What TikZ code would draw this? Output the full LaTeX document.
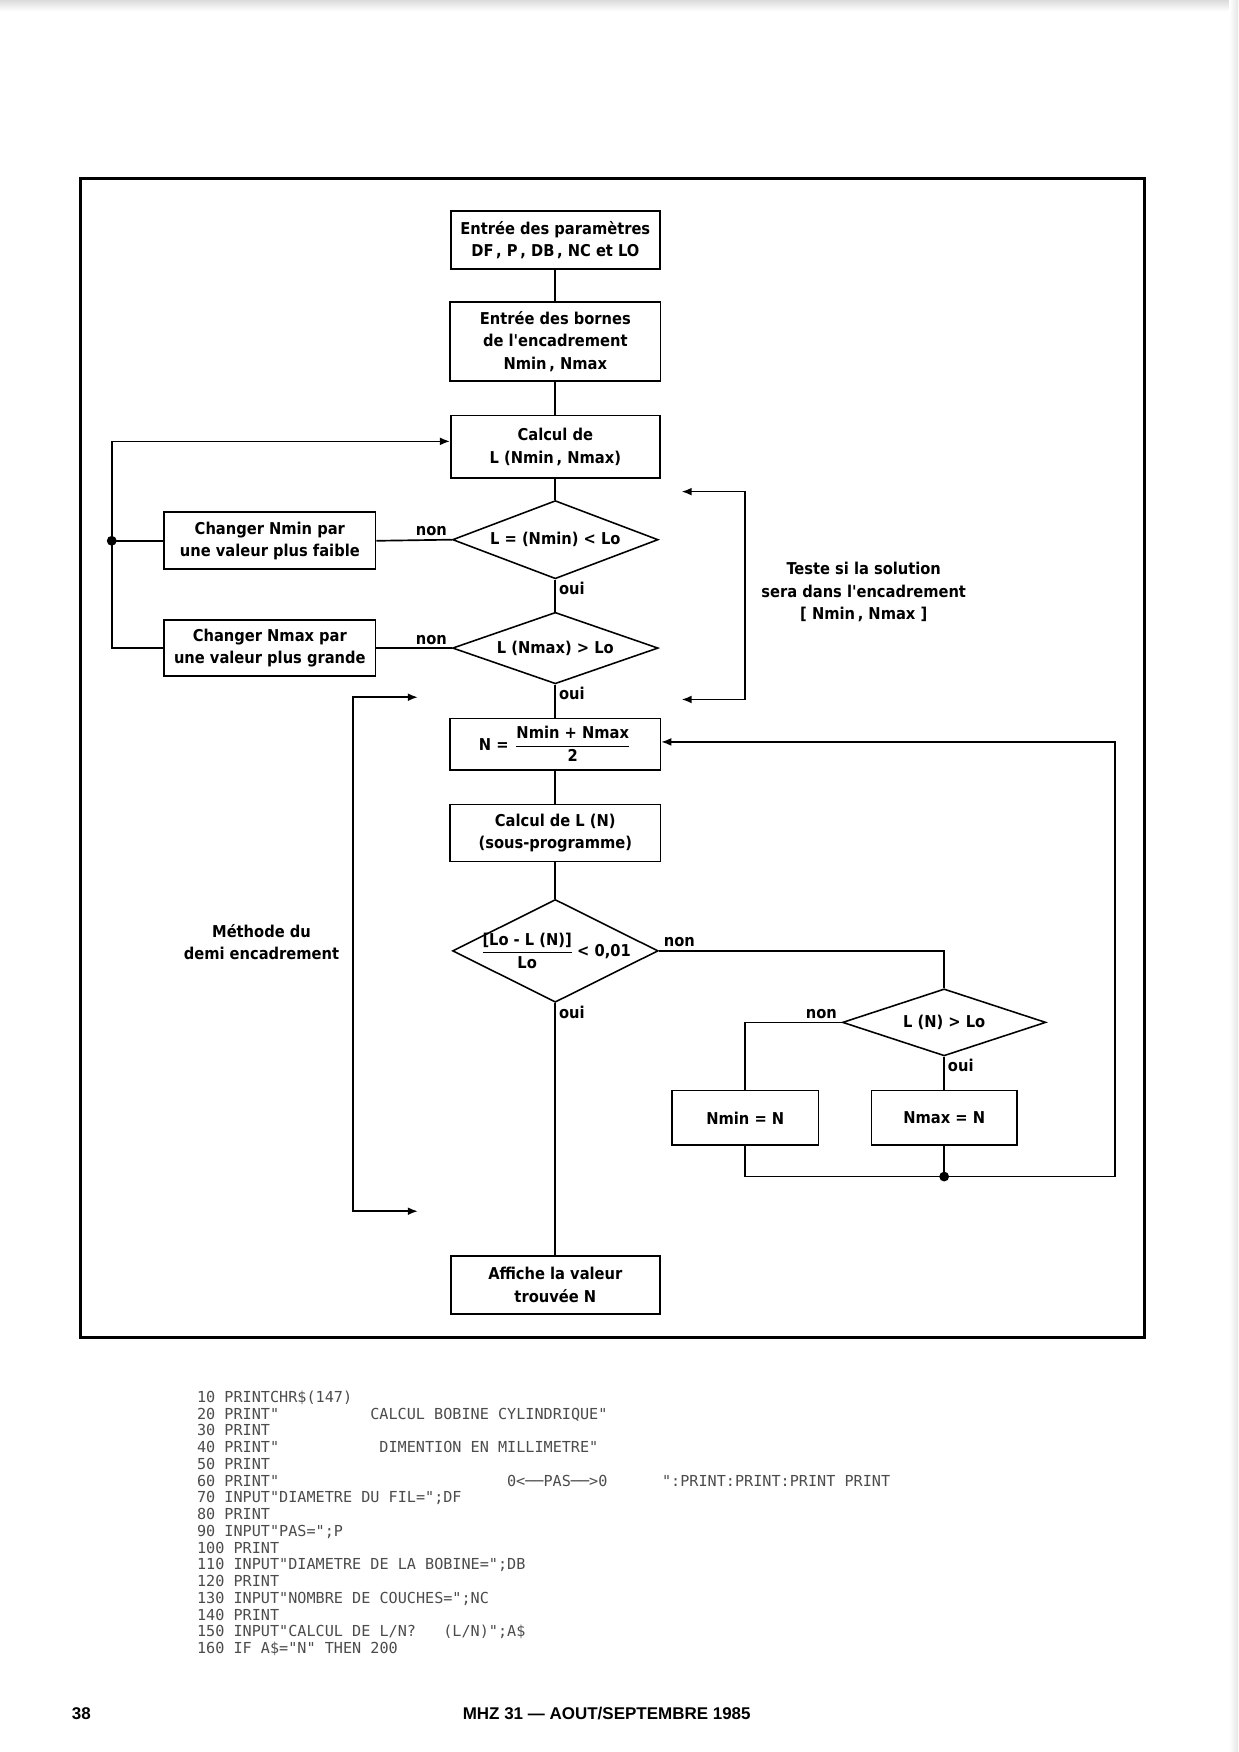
\documentclass[tikz,border=0pt]{standalone}
\usepackage{fontspec}
\setmainfont{Liberation Sans}
\newfontfamily\flowfont{DejaVu Sans Condensed}
\newfontfamily\codefont{DejaVu Sans Mono}
\usetikzlibrary{shapes.geometric,arrows.meta}
\newcommand\flowtext{\flowfont\bfseries\fontsize{7.3}{10}\selectfont}
\newcommand\codetext{\codefont\fontsize{6.78}{8}\selectfont}
\newcommand\cx[1]{176+#1*8.16}
\newcommand\cy[1]{1255+#1*15}
\begin{document}
\begin{tikzpicture}[x=0.5pt,y=-0.5pt,
  box/.style={draw, line width=0.75pt, rectangle, inner sep=1pt, align=center, font=\flowtext},
  dia/.style={draw, diamond, line width=0.7pt, inner sep=0pt},
  dtext/.style={font=\flowtext, inner sep=0pt, align=center},
  lab/.style={font=\flowtext, inner sep=1pt},
  conn/.style={line width=0.75pt},
  arr/.style={-{Latex[length=4.5pt,width=3.5pt]}},
  barr/.style={{Latex[length=4.5pt,width=3.5pt]}-{Latex[length=4.5pt,width=3.5pt]}},
  note/.style={font=\flowtext, align=center, inner sep=0pt},
  code/.style={anchor=base west, inner sep=0pt, font=\codetext, text=black!70},
  foot/.style={anchor=base, inner sep=0pt, font=\bfseries\fontsize{7.6}{9}\selectfont}]
\useasboundingbox (0,0) rectangle (1108,1568);
\fill[white] (0,0) rectangle (1108,1568);
% scanned page edge
\shade[top color=black!14, bottom color=white] (0,0) rectangle (1108,10);
\shade[left color=white, right color=black!10] (1100,0) rectangle (1108,1568);

% frame
\draw[line width=1.2pt] (72,160) rectangle (1024,1197);

% main column
\node[box, minimum width=93.5pt, minimum height=26pt] (b1) at (497,215) {Entrée des paramètres\\DF\,, P\,, DB\,, NC et LO};
\node[box, minimum width=94pt, minimum height=35.5pt] (b2) at (497,305.5) {Entrée des bornes\\de l'encadrement\\Nmin\,, Nmax};
\node[box, minimum width=93.5pt, minimum height=28pt] (b3) at (497,400) {Calcul de\\L (Nmin\,, Nmax)};
\node[dia, minimum width=92pt, minimum height=35pt, label={[dtext,name=t1]center:L = (Nmin) < Lo}] (d1) at (497,483) {};
\node[dia, minimum width=92pt, minimum height=32pt, label={[dtext,name=t2]center:L (Nmax) > Lo}] (d2) at (497,580) {};
\node[box, minimum width=94.5pt, minimum height=25.5pt] (cmin) at (241.5,484) {Changer Nmin par\\une valeur plus faible};
\node[box, minimum width=94.5pt, minimum height=25pt] (cmax) at (241.5,580) {Changer Nmax par\\une valeur plus grande};
\node[box, minimum width=94pt, minimum height=23pt] (bN) at (497,666) {N = \(\displaystyle\frac{\mbox{Nmin + Nmax}}{\mbox{2}}\)};
\node[box, minimum width=94pt, minimum height=25.5pt] (bLN) at (497,745.5) {Calcul de L (N)\\(sous-programme)};
\node[dia, minimum width=92pt, minimum height=46pt, label={[dtext,name=t3]center:\(\displaystyle\frac{\mbox{[Lo - L (N)]}}{\mbox{Lo}}\)\,< 0,01}] (d3) at (497,851) {};
\node[dia, minimum width=91pt, minimum height=30pt, label={[dtext,name=t4]center:L (N) > Lo}] (d4) at (845,915) {};
\node[box, minimum width=65.5pt, minimum height=24.5pt] (nmin) at (667,1000.5) {Nmin = N};
\node[box, minimum width=65pt, minimum height=24.5pt] (nmax) at (845,1000.5) {Nmax = N};
\node[box, minimum width=93.5pt, minimum height=26pt] (fin) at (497,1150) {Affiche la valeur\\trouvée N};

% connectors main
\draw[conn] (b1) -- (b2);
\draw[conn] (b2) -- (b3);
\draw[conn] (b3) -- (d1.north);
\draw[conn] (d1.south) -- (d2.north);
\draw[conn] (d2.south) -- (bN.north);
\draw[conn] (d1.west) -- (cmin.east);
\draw[conn] (d2.west) -- (cmax.east);
\draw[conn] (bN) -- (bLN);
\draw[conn] (bLN) -- (d3.north);
\draw[conn] (d3.south) -- (fin.north);
\draw[conn] (d3.east) -| (d4.north);
\draw[conn] (d4.west) -| (nmin.north);
\draw[conn] (d4.south) -- (nmax.north);

% labels
\node[lab, anchor=south east] (n1) at ([xshift=-1pt,yshift=0.5pt]d1.west) {non};
\node[lab, anchor=south east] (n2) at ([xshift=-1pt,yshift=0.5pt]d2.west) {non};
\node[lab, anchor=north west] (o1) at ([xshift=0.5pt]d1.south) {oui};
\node[lab, anchor=north west] (o2) at ([xshift=0.5pt]d2.south) {oui};
\node[lab, anchor=south west] (n3) at ([xshift=1pt,yshift=0.5pt]d3.east) {non};
\node[lab, anchor=north west] (o3) at ([xshift=0.5pt]d3.south) {oui};
\node[lab, anchor=south east] (n4) at ([xshift=-1pt,yshift=0.5pt]d4.west) {non};
\node[lab, anchor=north west] (o4) at ([xshift=0.5pt]d4.south) {oui};

% left loop
\coordinate (lx) at (100,0);
\draw[conn] (cmin.west) -- (cmin.west -| lx);
\draw[conn,arr] (cmax.west) -- (cmax.west -| lx) |- ([yshift=2.5pt]b3.west);
\fill (cmin.west -| lx) circle (2.2pt);

% bottom loop
\coordinate (jn) at (845,1053);
\coordinate (rx) at (998,0);
\draw[conn] (nmin.south) |- (jn);
\draw[conn] (nmax.south) -- (jn);
\draw[conn,arr] (jn) -- (jn -| rx) |- ([yshift=1pt]bN.east);
\fill (jn) circle (2.2pt);

% right bracket
\coordinate (ra) at (610,440);
\coordinate (rc) at (667,440);
\coordinate (rd) at (667,626);
\coordinate (rb) at (610,626);
\draw[conn,barr] (ra) -- (rc) -- (rd) -- (rb);
\node[note] (teste) at (773,530) {Teste si la solution\\sera dans l'encadrement\\{[} Nmin\,, Nmax {]}};

% left bracket
\coordinate (la) at (374,624);
\coordinate (lb) at (316,624);
\coordinate (lc) at (316,1084);
\coordinate (ld) at (374,1084);
\draw[conn,barr] (la) -- (lb) -- (lc) -- (ld);
\node[note] (meth) at (234,843) {Méthode du\\demi encadrement};

% code listing
\node[code] (c1) at ({\cx{0}},{\cy{0}}) {10 PRINTCHR\$(147)};
\node[code] (c2a) at ({\cx{0}},{\cy{1}}) {20 PRINT"};
\node[code] (c2b) at ({\cx{19}},{\cy{1}}) {CALCUL BOBINE CYLINDRIQUE"};
\node[code] (c3) at ({\cx{0}},{\cy{2}}) {30 PRINT};
\node[code] (c4a) at ({\cx{0}},{\cy{3}}) {40 PRINT"};
\node[code] (c4b) at ({\cx{20}},{\cy{3}}) {DIMENTION EN MILLIMETRE"};
\node[code] (c5) at ({\cx{0}},{\cy{4}}) {50 PRINT};
\node[code] (c6a) at ({\cx{0}},{\cy{5}}) {60 PRINT"};
\node[code] (c6b) at ({\cx{34}},{\cy{5}}) {0<──PAS──>0};
\node[code] (c6c) at ({\cx{51}},{\cy{5}}) {":PRINT:PRINT:PRINT PRINT};
\node[code] (c7) at ({\cx{0}},{\cy{6}}) {70 INPUT"DIAMETRE DU FIL=";DF};
\node[code] (c8) at ({\cx{0}},{\cy{7}}) {80 PRINT};
\node[code] (c9) at ({\cx{0}},{\cy{8}}) {90 INPUT"PAS=";P};
\node[code] (c10) at ({\cx{0}},{\cy{9}}) {100 PRINT};
\node[code] (c11) at ({\cx{0}},{\cy{10}}) {110 INPUT"DIAMETRE DE LA BOBINE=";DB};
\node[code] (c12) at ({\cx{0}},{\cy{11}}) {120 PRINT};
\node[code] (c13) at ({\cx{0}},{\cy{12}}) {130 INPUT"NOMBRE DE COUCHES=";NC};
\node[code] (c14) at ({\cx{0}},{\cy{13}}) {140 PRINT};
\node[code] (c15a) at ({\cx{0}},{\cy{14}}) {150 INPUT"CALCUL DE L/N?};
\node[code] (c15b) at ({\cx{27}},{\cy{14}}) {(L/N)";A\$};
\node[code] (c16) at ({\cx{0}},{\cy{15}}) {160 IF A\$="N" THEN 200};

% footer
\node[foot, anchor=base west] (pg) at (64,1539) {38};
\node[foot] (mag) at (543,1539) {MHZ 31 — AOUT/SEPTEMBRE 1985};
\end{tikzpicture}
\end{document}
